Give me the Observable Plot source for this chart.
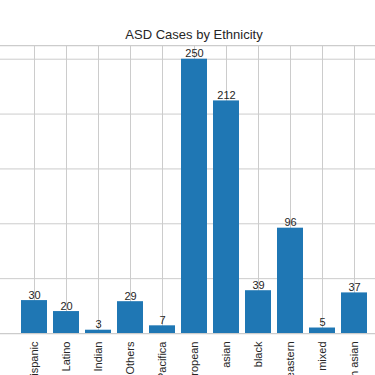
<!DOCTYPE html>
<html>
<head>
<meta charset="utf-8">
<script src="https://cdn.jsdelivr.net/npm/d3@7"></script>
<script src="https://cdn.jsdelivr.net/npm/@observablehq/plot@0.6"></script>
<style>
  html, body { margin: 0; padding: 0; overflow: hidden; background: #fff; }
  #chart svg { display: block; max-width: none !important; }
</style>
</head>
<body>
<div id="chart"></div>
<script>
const title = "ASD Cases by Ethnicity";
const ethnicities = ["Hispanic", "Latino", "Native Indian", "Others", "Pacifica", "White European", "asian", "black", "middle eastern", "mixed", "south asian"];
const cases = [30, 20, 3, 29, 7, 250, 212, 39, 96, 5, 37];
const gridValues = [50, 100, 150, 200, 250];

const data = ethnicities.map((e, i) => ({eth: e, n: cases[i]}));
const grid = "#cccccc";
const font = "'Liberation Sans', Arial, sans-serif";

const chart = Plot.plot({
  width: 387,
  height: 375,
  marginLeft: 0,
  marginRight: 0,
  marginTop: 45,
  marginBottom: 42,
  style: {fontFamily: font, color: "#262626", background: "#fff", maxWidth: "none"},
  x: {domain: ethnicities, paddingInner: 0.2, paddingOuter: 0.54, align: 0.5, label: null},
  y: {domain: [0, 262.5], axis: null},
  marks: [
    Plot.ruleY(gridValues, {stroke: grid, strokeWidth: 1}),
    Plot.ruleX(ethnicities, {stroke: grid, strokeWidth: 1}),
    Plot.ruleY([0, 262.5], {stroke: grid, strokeWidth: 1.25}),
    Plot.barY(data, {x: "eth", y: "n", fill: "#1f77b4"}),
    Plot.text(data, {x: "eth", y: "n", text: d => String(d.n), lineAnchor: "bottom", dy: -2, fontSize: 11, fill: "#262626"}),
    Plot.axisX({tickRotate: -90, tickSize: 0, tickPadding: 8, fontSize: 11, label: null}),
    Plot.text([title], {frameAnchor: "top", lineAnchor: "bottom", dy: -7, fontSize: 13, fill: "#262626"})
  ]
});
document.getElementById("chart").appendChild(chart);
</script>
</body>
</html>
